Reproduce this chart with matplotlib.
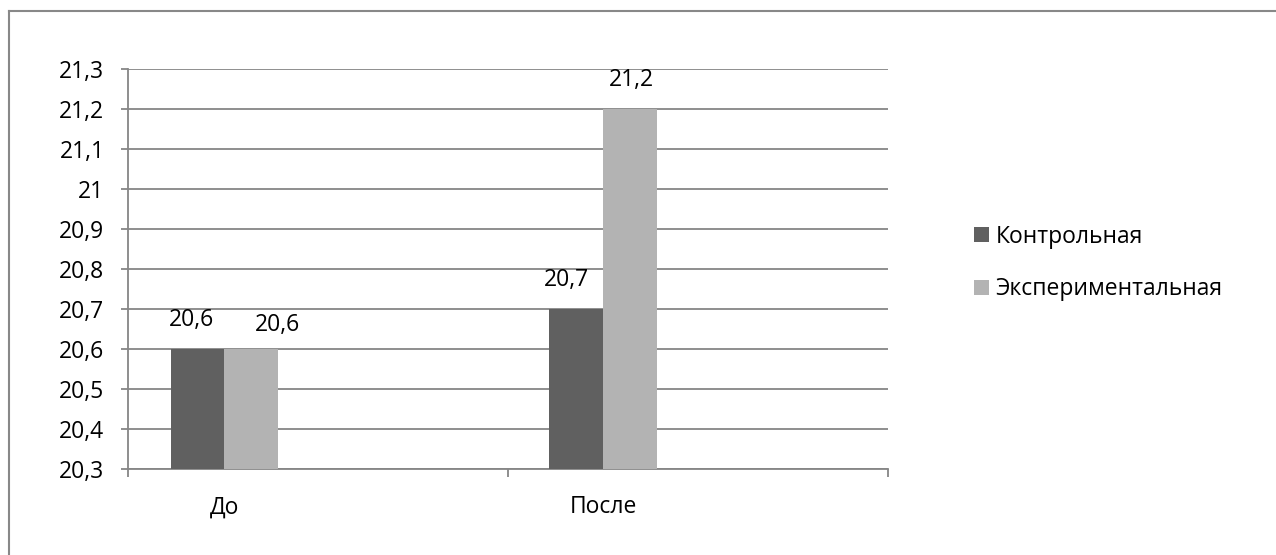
import matplotlib.pyplot as plt
from matplotlib.lines import Line2D
import numpy as np

plt.rcParams['font.family'] = ['Open Sans', 'DejaVu Sans']

categories = ['До', 'После']
series_names = ['Контрольная', 'Экспериментальная']
control = [20.6, 20.7]
experimental = [20.6, 21.2]
y_ticks = [20.3, 20.4, 20.5, 20.6, 20.7, 20.8, 20.9, 21.0, 21.1, 21.2, 21.3]
y_tick_labels = ['20,3', '20,4', '20,5', '20,6', '20,7', '20,8', '20,9', '21', '21,1', '21,2', '21,3']

dark = '#606060'
light = '#B3B3B3'
grid_c = '#868686'
fs = 16.5

W, H = 1276, 555
fig = plt.figure(figsize=(W / 100, H / 100), dpi=100)

# outer chart frame (runs off the right and bottom edges)
fig.add_artist(Line2D([8.5 / W, 1.0], [1 - 10.5 / H, 1 - 10.5 / H], transform=fig.transFigure,
                      color='#888888', lw=1.5))
fig.add_artist(Line2D([8.5 / W, 8.5 / W], [0.0, 1 - 10.5 / H], transform=fig.transFigure,
                      color='#888888', lw=1.5))

ax = fig.add_axes([128 / W, (H - 469) / H, (888 - 128) / W, (469 - 69) / H])

centers = np.array([0.253, 1.25])
bw = 0.141
b1 = ax.bar(centers - bw / 2, control, width=bw, bottom=0, color=dark, label=series_names[0], zorder=3)
b2 = ax.bar(centers + bw / 2, experimental, width=bw, bottom=0, color=light, label=series_names[1], zorder=3)

ax.set_xlim(0, 2)
ax.set_ylim(20.3, 21.3)
ax.set_yticks(y_ticks)
ax.set_yticklabels(y_tick_labels)
ax.yaxis.grid(True, color=grid_c, lw=1.3, zorder=0)

# category axis: ticks at category boundaries, labels at group centers
ax.set_xticks([0, 1, 2])
ax.set_xticklabels([])
ax.set_xticks(centers, minor=True)
ax.set_xticklabels(categories, minor=True)
ax.tick_params(axis='x', which='major', length=6, width=1.3, color=grid_c, direction='out')
ax.tick_params(axis='x', which='minor', length=0, pad=19, labelsize=fs)
ax.tick_params(axis='y', length=5, width=1.3, color=grid_c, pad=12, labelsize=fs)

for s in ['top', 'right']:
    ax.spines[s].set_visible(False)
for s in ['left', 'bottom']:
    ax.spines[s].set_color(grid_c)
    ax.spines[s].set_linewidth(1.3)

# value labels
offsets = [[(-4.5, 21), (-7, 21)], [(19, 17), (1.5, 21)]]
for j, bars in enumerate([b1, b2]):
    for i, rect in enumerate(bars):
        v = rect.get_height()
        dx, dy = offsets[j][i]
        ax.annotate(f'{v:.1f}'.replace('.', ','),
                    xy=(rect.get_x() + rect.get_width() / 2, v),
                    xytext=(dx, dy), textcoords='offset points',
                    ha='center', va='center', fontsize=fs, color='black')

leg = fig.legend(handles=[b1, b2], labels=series_names, loc='center left',
                 bbox_to_anchor=(953 / W, 1 - 263 / H), frameon=False, fontsize=fs,
                 handlelength=0.65, handleheight=0.65, handletextpad=0.3, labelspacing=1.25)

fig.savefig('out.png', dpi=100)
